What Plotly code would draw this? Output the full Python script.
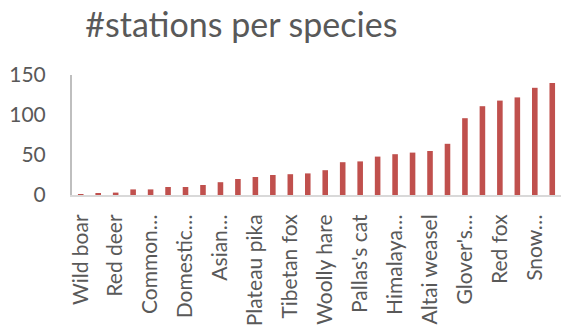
import plotly.graph_objects as go

# Number of camera stations at which each species was detected, sorted ascending
station_counts = [1, 2, 3, 7, 7, 10, 10, 12.5, 16, 20, 22.5, 25, 26, 27,
                  31, 41, 42, 48, 51, 53, 55, 64, 96, 111, 118, 122, 134, 140]

# Axis labels shown under every second bar (long names are cut with an ellipsis)
tick_labels = ["Wild boar", "Red deer", "Common…", "Domestic…", "Asian…",
               "Plateau pika", "Tibetan fox", "Woolly hare", "Pallas's cat",
               "Himalaya…", "Altai weasel", "Glover's…", "Red fox", "Snow…"]

y_ticks = [0, 50, 100, 150]

positions = list(range(len(station_counts)))

FONT = "Lato, Carlito, 'Liberation Sans', sans-serif"
GREY_TEXT = "#595959"

fig = go.Figure(
    go.Bar(
        x=positions,
        y=station_counts,
        marker=dict(color="#C0504D", line=dict(width=0)),
        hoverinfo="x+y",
    )
)

fig.update_layout(
    width=561,
    height=329,
    margin=dict(l=72, r=0, t=75, b=134),
    paper_bgcolor="white",
    plot_bgcolor="white",
    bargap=0.68,
    showlegend=False,
    font=dict(family=FONT, color=GREY_TEXT),
    title=dict(
        text="#stations per species",
        font=dict(family=FONT, size=34, color=GREY_TEXT),
        x=0.152, xanchor="left",
        y=0.925, yanchor="middle",
    ),
)

fig.update_xaxes(
    range=[-0.5, len(station_counts) - 0.5],
    tickmode="array",
    tickvals=positions[::2],
    ticktext=tick_labels,
    tickangle=-90,
    tickfont=dict(size=21, color=GREY_TEXT),
    ticklabelstandoff=9,
    showline=True,
    linecolor="#D9D9D9",
    linewidth=2,
    ticks="",
    showgrid=False,
    zeroline=False,
)

fig.update_yaxes(
    range=[0, 150],
    tickmode="array",
    tickvals=y_ticks,
    tickfont=dict(size=21, color=GREY_TEXT),
    ticklabelstandoff=20,
    showline=True,
    linecolor="#BFBFBF",
    linewidth=2,
    ticks="",
    showgrid=False,
    zeroline=False,
)

fig.write_html("out.html")
